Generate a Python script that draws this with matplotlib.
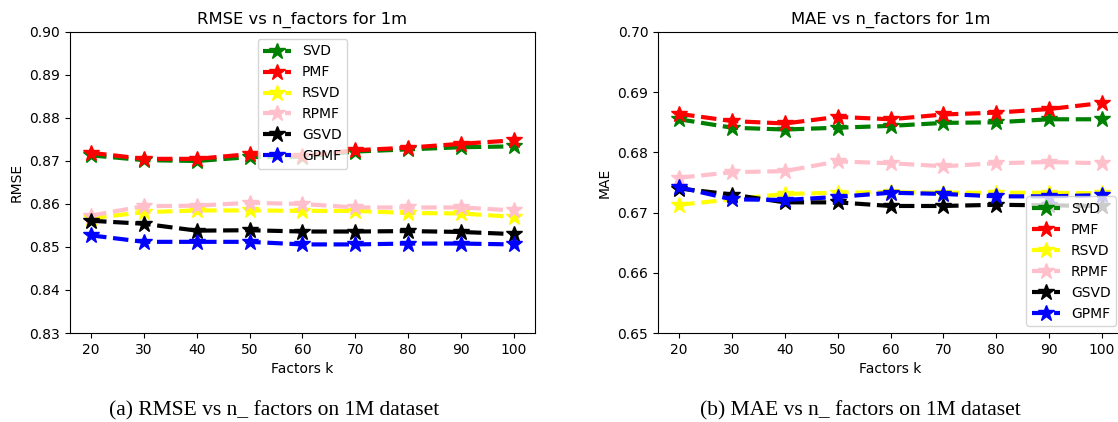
import numpy as np
import matplotlib
matplotlib.use("Agg")
from matplotlib import pyplot as plt

# ==========================================================
# data
# ==========================================================
factors = [20, 30, 40, 50, 60, 70, 80, 90, 100]
models = ["SVD", "PMF", "RSVD", "RPMF", "GSVD", "GPMF"]
colors = ["green", "red", "yellow", "pink", "black", "blue"]

rmse_svd = [0.8713, 0.8702, 0.8700, 0.8709, 0.8710, 0.8722, 0.8727, 0.8732, 0.8734]
rmse_pmf = [0.8719, 0.8705, 0.8705, 0.8716, 0.8712, 0.8725, 0.8731, 0.8740, 0.8748]
rmse_rsvd = [0.8567, 0.8581, 0.8585, 0.8585, 0.8584, 0.8584, 0.8579, 0.8578, 0.8570]
rmse_rpmf = [0.8573, 0.8595, 0.8596, 0.8603, 0.8600, 0.8592, 0.8592, 0.8592, 0.8585]
rmse_gsvd = [0.8561, 0.8554, 0.8538, 0.8539, 0.8536, 0.8536, 0.8537, 0.8535, 0.8530]
rmse_gpmf = [0.8527, 0.8512, 0.8512, 0.8512, 0.8506, 0.8506, 0.8508, 0.8508, 0.8506]

mae_svd = [0.6855, 0.6841, 0.6838, 0.6841, 0.6844, 0.6849, 0.6850, 0.6855, 0.6855]
mae_pmf = [0.6864, 0.6852, 0.6848, 0.6859, 0.6855, 0.6863, 0.6866, 0.6872, 0.6882]
mae_rsvd = [0.6713, 0.6722, 0.6731, 0.6733, 0.6734, 0.6733, 0.6733, 0.6733, 0.6732]
mae_rpmf = [0.6758, 0.6767, 0.6769, 0.6785, 0.6782, 0.6777, 0.6782, 0.6784, 0.6782]
mae_gsvd = [0.6740, 0.6730, 0.6717, 0.6717, 0.6711, 0.6711, 0.6713, 0.6712, 0.6711]
mae_gpmf = [0.6742, 0.6722, 0.6721, 0.6726, 0.6733, 0.6731, 0.6727, 0.6727, 0.6729]

rmse_all = [rmse_svd, rmse_pmf, rmse_rsvd, rmse_rpmf, rmse_gsvd, rmse_gpmf]
mae_all = [mae_svd, mae_pmf, mae_rsvd, mae_rpmf, mae_gsvd, mae_gpmf]

plt.rcParams['font.family'] = ['DejaVu Sans']
plt.rcParams['font.size'] = 10

fig = plt.figure(figsize=(11.18, 4.22), dpi=100)
ax1 = fig.add_axes([0.0626, 0.2109, 0.4159, 0.7133])
ax2 = fig.add_axes([0.5886, 0.2109, 0.4159, 0.7133])


def draw(ax, series, title, ylabel, ylim, legend_loc):
    for name, col, vals in zip(models, colors, series):
        ax.plot(factors, vals, linestyle='--', marker='*', color=col,
                linewidth=3, markersize=12, label=name)
    ax.set_title(title, fontsize=11.8)
    ax.set_xlabel("Factors k")
    ax.set_ylabel(ylabel)
    ax.set_ylim(ylim)
    ax.set_yticks(np.round(np.arange(ylim[0], ylim[1] + 0.001, 0.01), 2))
    ax.set_xticks(factors)
    ax.yaxis.set_major_formatter(matplotlib.ticker.FormatStrFormatter('%.2f'))
    ax.legend(loc=legend_loc, fontsize=10)


draw(ax1, rmse_all, "RMSE vs n_factors for 1m", "RMSE", (0.83, 0.90), "upper center")
draw(ax2, mae_all, "MAE vs n_factors for 1m", "MAE", (0.65, 0.70), "lower right")

# captions under each panel
fig.text(0.2455, 0.0166, "(a) RMSE vs n_ factors on 1M dataset", family='Liberation Serif',
         fontsize=15.5, ha='center', va='baseline')
fig.text(0.7697, 0.0166, "(b) MAE vs n_ factors on 1M dataset", family='Liberation Serif',
         fontsize=15.5, ha='center', va='baseline')

fig.savefig("out.png", dpi=100)
